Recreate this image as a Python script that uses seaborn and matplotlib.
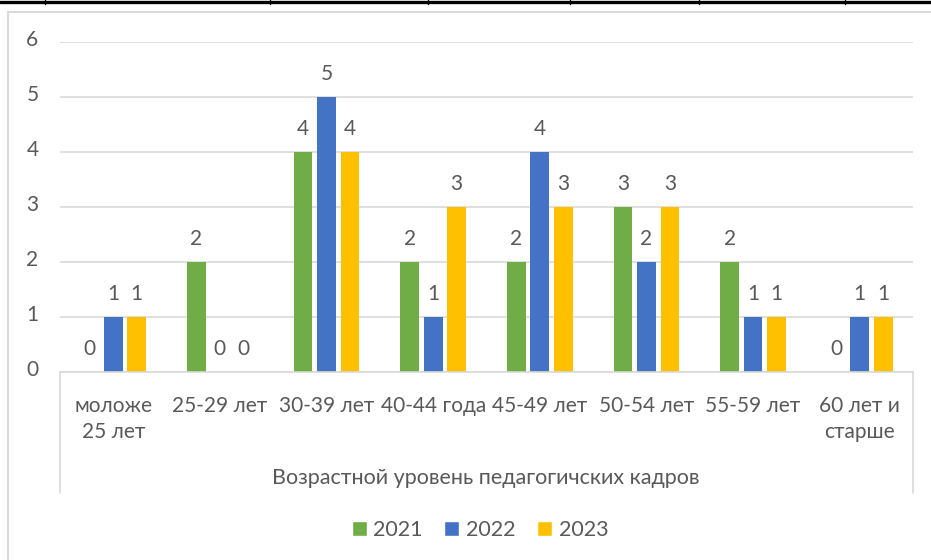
import numpy as np
import pandas as pd
import matplotlib
matplotlib.use('Agg')
import matplotlib.pyplot as plt
from matplotlib.lines import Line2D
from matplotlib.patches import Patch
from matplotlib.transforms import ScaledTranslation
import seaborn as sns

# data
categories = ['моложе\n25 лет', '25-29 лет', '30-39 лет', '40-44 года',
              '45-49 лет', '50-54 лет', '55-59 лет', '60 лет и\nстарше']
years = ['2021', '2022', '2023']
v2021 = [0, 2, 4, 2, 2, 3, 2, 0]
v2022 = [1, 0, 5, 1, 4, 2, 1, 1]
v2023 = [1, 0, 4, 3, 3, 3, 1, 1]
colors = ['#70AD47', '#4472C4', '#FFC000']
axis_title = 'Возрастной уровень педагогичских кадров'

df = pd.DataFrame({
    'cat': categories * 3,
    'year': [years[0]] * 8 + [years[1]] * 8 + [years[2]] * 8,
    'val': v2021 + v2022 + v2023,
})

sns.set_theme(style='white')
plt.rcParams['font.family'] = ['Lato', 'Noto Sans', 'DejaVu Sans']
txt = '#595959'
grid = '#D9D9D9'

W, H = 931, 560
fig = plt.figure(figsize=(W / 100, H / 100), dpi=100)
ax = fig.add_axes([60 / W, 1 - 372 / H, (913 - 60) / W, (372 - 42) / H])

sns.barplot(data=df, x='cat', y='val', hue='year', palette=colors,
            width=0.66, gap=0.2, saturation=1, linewidth=0, ax=ax, legend=False)

for cont in ax.containers:
    ax.bar_label(cont, padding=9.5, fontsize=15, color=txt)

ax.set_ylim(0, 6)
ax.set_xlim(-0.5, 7.5)
ax.set_yticks(range(7))
ax.yaxis.grid(True, color=grid, lw=1.2)
ax.set_axisbelow(True)
for s in ['top', 'right', 'left']:
    ax.spines[s].set_visible(False)
ax.spines['bottom'].set_color(grid)
ax.spines['bottom'].set_linewidth(1.2)
ax.tick_params(axis='y', length=0, pad=15.5, labelsize=15, labelcolor=txt)
ax.tick_params(axis='x', length=0, pad=17, labelsize=15, labelcolor=txt)
for lab in ax.get_xticklabels():
    lab.set_multialignment('center')
    lab.set_linespacing(1.4)
shift = ScaledTranslation(0, 4 / 100, fig.dpi_scale_trans)
for lab in ax.get_yticklabels():
    lab.set_transform(lab.get_transform() + shift)
ax.set_xlabel('')
ax.set_ylabel('')

# outer category level
fig.text(486 / W, 1 - 478 / H, axis_title, ha='center', va='center',
         fontsize=15.5, color=txt)
for xp in (60, 913):
    fig.add_artist(Line2D([xp / W, xp / W], [1 - 372 / H, 1 - 493 / H],
                          color=grid, lw=1.2))

# chart frame (cut at right and bottom) and page table line above
fig.add_artist(Line2D([8 / W, 1], [1 - 12 / H, 1 - 12 / H], color=grid, lw=1.5))
fig.add_artist(Line2D([8 / W, 8 / W], [1 - 12 / H, 0], color=grid, lw=1.5))
fig.add_artist(Line2D([0, 1], [1 - 1.5 / H, 1 - 1.5 / H], color='black', lw=2.4))
for xp in (45, 270, 428, 570, 699, 845):
    fig.add_artist(Line2D([xp / W, xp / W], [1, 1 - 4 / H], color='black', lw=1))

handles = [Patch(facecolor=c, label=y) for c, y in zip(colors, years)]
fig.legend(handles=handles, loc='center', bbox_to_anchor=(480 / W, 1 - 530 / H),
           ncol=3, frameon=False, fontsize=15.5, labelcolor=txt,
           handlelength=0.7, handleheight=0.7, handletextpad=0.3,
           columnspacing=1.0)

fig.savefig('out.png', dpi=100)
